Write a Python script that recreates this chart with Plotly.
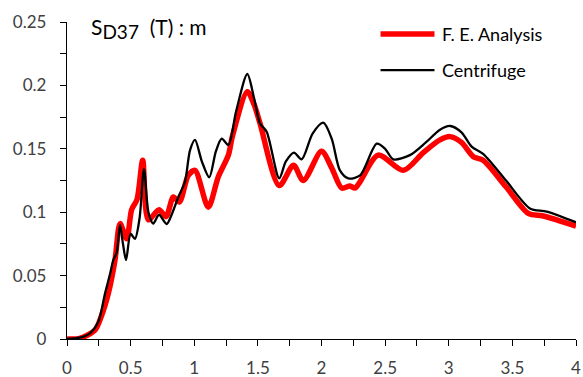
import plotly.graph_objects as go

# Displacement response spectrum S_D37(T), metres, versus period T (s)
period_fe = [0.0, 0.1, 0.22, 0.27, 0.325, 0.377, 0.417, 0.469, 0.508, 0.55, 0.595,
             0.639, 0.723, 0.778, 0.836, 0.883, 0.953, 1.006, 1.11, 1.189, 1.268,
             1.3, 1.417, 1.47, 1.517, 1.668, 1.78, 1.857, 2.0, 2.08, 2.159, 2.224,
             2.263, 2.303, 2.446, 2.643, 2.8, 2.931, 3.01, 3.1, 3.193, 3.27, 3.45,
             3.625, 3.743, 4.0]
sd_fe = [0.0, 0.0005, 0.007, 0.018, 0.036, 0.062, 0.091, 0.079, 0.102, 0.11, 0.141,
         0.094, 0.102, 0.0965, 0.112, 0.108, 0.129, 0.133, 0.104, 0.128, 0.145,
         0.16, 0.195, 0.185, 0.170, 0.121, 0.137, 0.125, 0.148, 0.135, 0.119, 0.1207,
         0.119, 0.124, 0.145, 0.133, 0.147, 0.157, 0.1596, 0.155, 0.1438, 0.141, 0.12,
         0.099, 0.097, 0.089]

period_cf = [0.0, 0.1, 0.18, 0.246, 0.299, 0.34, 0.364, 0.39, 0.417, 0.44, 0.464,
             0.5, 0.534, 0.57, 0.605, 0.64, 0.678, 0.723, 0.783, 0.83, 0.875, 0.927,
             0.967, 1.006, 1.06, 1.118, 1.17, 1.216, 1.268, 1.33, 1.417, 1.47, 1.517,
             1.569, 1.668, 1.72, 1.784, 1.844, 1.93, 2.014, 2.08, 2.145, 2.211, 2.303,
             2.434, 2.5, 2.564, 2.695, 2.82, 2.931, 3.01, 3.1, 3.18, 3.27, 3.45, 3.638,
             3.77, 4.0]
sd_cf = [0.0, 0.001, 0.0045, 0.0136, 0.036, 0.052, 0.0623, 0.068, 0.09, 0.075, 0.0623,
         0.083, 0.079, 0.095, 0.134, 0.100, 0.091, 0.098, 0.0907, 0.1, 0.112, 0.124,
         0.149, 0.157, 0.140, 0.1275, 0.148, 0.158, 0.153, 0.18, 0.209, 0.19, 0.170,
         0.1635, 0.1267, 0.14, 0.147, 0.1417, 0.162, 0.1706, 0.158, 0.133, 0.1267, 0.129,
         0.154, 0.15, 0.1417, 0.145, 0.155, 0.165, 0.168, 0.163, 0.1517, 0.146, 0.125, 0.103,
         0.1004, 0.092]

series_names = ["F. E. Analysis", "Centrifuge"]
x_ticks = [0, 0.5, 1, 1.5, 2, 2.5, 3, 3.5, 4]
x_tick_text = ["0", "0.5", "1", "1.5", "2", "2.5", "3", "3.5", "4"]
y_ticks = [0, 0.05, 0.1, 0.15, 0.2, 0.25]
y_tick_text = ["0", "0.05", "0.1", "0.15", "0.2", "0.25"]

FONT = "Lato"
TICK_COLOR = "#404040"

fig = go.Figure()
fig.add_trace(go.Scatter(x=period_fe, y=sd_fe, mode="lines", name=series_names[0],
                         line=dict(color="#ff0000", width=5.5, shape="spline", smoothing=0.8)))
fig.add_trace(go.Scatter(x=period_cf, y=sd_cf, mode="lines", name=series_names[1],
                         line=dict(color="#000000", width=2.3, shape="spline", smoothing=0.8)))

axis_common = dict(showgrid=False, zeroline=False, showline=True, linecolor="#000000",
                   linewidth=1.3, ticks="outside", ticklen=6, tickcolor="#000000",
                   tickwidth=1.3, automargin=False,
                   tickfont=dict(family=FONT, size=17, color=TICK_COLOR))

fig.update_xaxes(range=[0, 4], tickvals=x_ticks, ticktext=x_tick_text,
                 minor=dict(dtick=0.25, tick0=0, ticks="outside", ticklen=6,
                            tickcolor="#000000", tickwidth=1.3),
                 ticklabelstandoff=7, **axis_common)
fig.update_yaxes(range=[0, 0.25], tickvals=y_ticks, ticktext=y_tick_text,
                 minor=dict(dtick=0.025, tick0=0, ticks="outside", ticklen=6,
                            tickcolor="#000000", tickwidth=1.3),
                 ticklabelstandoff=10, **axis_common)

# Hand-drawn legend: sample strokes plus labels at the upper right
legend_rows = [(series_names[0], "#ff0000", 5.5, 0.962), (series_names[1], "#000000", 2.3, 0.848)]
for label, color, width, yy in legend_rows:
    fig.add_shape(type="line", xref="paper", yref="paper", x0=0.616, x1=0.722, y0=yy, y1=yy,
                  line=dict(color=color, width=width))
    fig.add_annotation(text=label, xref="paper", yref="paper", x=0.732, y=yy,
                       xanchor="left", yanchor="middle", showarrow=False,
                       font=dict(family=FONT, size=18, color="#000000"))

fig.add_annotation(text="S<sub><span style='font-size:19px'>D37</span></sub>  (T) : m",
                   xref="paper", yref="paper",
                   x=0.043, y=1.0, yshift=10, xanchor="left", yanchor="top", showarrow=False,
                   font=dict(family=FONT, size=21, color="#000000"))

fig.update_layout(width=583, height=377, margin=dict(l=67, r=7, t=22, b=38),
                  paper_bgcolor="#ffffff", plot_bgcolor="#ffffff", showlegend=False)

fig.write_html("out.html")
